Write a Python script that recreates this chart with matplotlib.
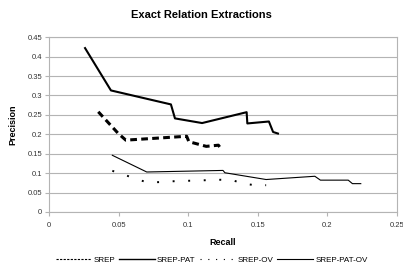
import matplotlib
matplotlib.use("Agg")
import matplotlib.pyplot as plt
from matplotlib.lines import Line2D

# DATA

srep_recall = [0.0354, 0.0498, 0.0552, 0.0989, 0.1005, 0.1130, 0.1217, 0.1240]
srep_prec = [0.258, 0.202, 0.185, 0.195, 0.181, 0.169, 0.172, 0.161]

srep_pat_recall = [0.0259, 0.0445, 0.0876, 0.0905, 0.110, 0.142, 0.1425, 0.158, 0.161, 0.1645]
srep_pat_prec = [0.422, 0.313, 0.277, 0.241, 0.229, 0.257, 0.228, 0.233, 0.206, 0.202]

srep_ov_recall = [0.0455, 0.0541, 0.0625, 0.0709, 0.0797, 0.0881, 0.0970, 0.1058,
                  0.1144, 0.1236, 0.1317, 0.1396, 0.1480, 0.1560]
srep_ov_prec = [0.106, 0.096, 0.085, 0.076, 0.077, 0.079, 0.080, 0.081,
                0.082, 0.083, 0.082, 0.073, 0.069, 0.069]

srep_pat_ov_recall = [0.0455, 0.0702, 0.125, 0.1264, 0.156, 0.191, 0.195, 0.215, 0.218, 0.224]
srep_pat_ov_prec = [0.146, 0.103, 0.107, 0.101, 0.0836, 0.092, 0.082, 0.082, 0.073, 0.073]

series_names = ["SREP", "SREP-PAT", "SREP-OV", "SREP-PAT-OV"]

x_ticks = [0, 0.05, 0.1, 0.15, 0.2, 0.25]
y_ticks = [0, 0.05, 0.1, 0.15, 0.2, 0.25, 0.3, 0.35, 0.4, 0.45]

# PLOT

plt.rcParams["font.family"] = ["Liberation Sans", "DejaVu Sans"]

fig = plt.figure(figsize=(4.03, 2.64), dpi=100)
ax = fig.add_axes([0.1216, 0.197, 0.8634, 0.662])

ax.plot(srep_recall, srep_prec, color="black", lw=2.2,
        linestyle=(0, (2.2, 1.4)))
ax.plot(srep_pat_recall, srep_pat_prec, color="black", lw=1.5)
ax.plot(srep_ov_recall, srep_ov_prec, color="black", lw=1.4,
        linestyle=(0, (1, 7)))
ax.plot(srep_pat_ov_recall, srep_pat_ov_prec, color="black", lw=0.8)

ax.set_xlim(0, 0.25)
ax.set_ylim(0, 0.45)
ax.set_xticks(x_ticks)
ax.set_xticklabels(["0", "0.05", "0.1", "0.15", "0.2", "0.25"])
ax.set_yticks(y_ticks)
ax.set_yticklabels(["0", "0.05", "0.1", "0.15", "0.2", "0.25",
                    "0.3", "0.35", "0.4", "0.45"])

ax.yaxis.grid(True, color="#b4b4b4", lw=0.8)
ax.set_axisbelow(True)
for s in ax.spines.values():
    s.set_color("#b4b4b4")
    s.set_linewidth(0.8)

ax.tick_params(axis="both", labelsize=5.5, colors="#b4b4b4",
               labelcolor="#333333", length=3, width=0.8, pad=2)
ax.tick_params(axis="x", pad=4)

fig.text(0.5, 1 - 15.5 / 264, "Exact Relation Extractions", fontsize=8,
         fontweight="bold", ha="center", va="center")
ax.set_xlabel("Recall", fontsize=6.5, fontweight="bold", labelpad=7)
ax.set_ylabel("Precision", fontsize=6.5, fontweight="bold", labelpad=7)

# legend handles drawn thinner, like the original
handles = [
    Line2D([], [], color="black", lw=0.8, linestyle=(0, (2, 1.2))),
    Line2D([], [], color="black", lw=1.0),
    Line2D([], [], color="black", lw=0.8, linestyle=(0, (1, 6))),
    Line2D([], [], color="black", lw=0.8),
]
fig.legend(handles, series_names, loc="center", bbox_to_anchor=(0.525, 1 - 260 / 264),
           ncol=4, fontsize=5.8, frameon=False, handlelength=4.4,
           columnspacing=0.5, handletextpad=0.3)

fig.savefig("out.png", dpi=100)
